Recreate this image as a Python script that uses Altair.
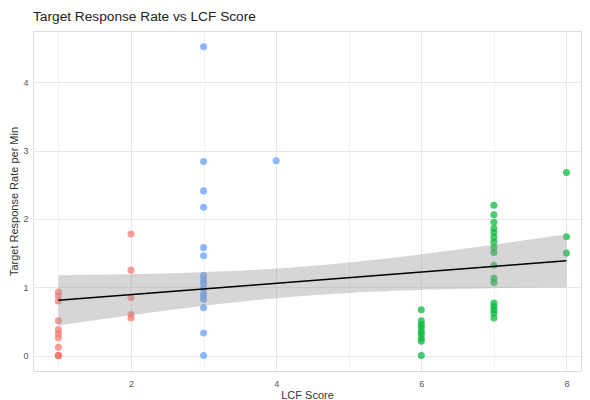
import altair as alt
import numpy as np
import pandas as pd

# ---- data ----
lcf_1 = [0.93, 0.87, 0.80, 0.51, 0.38, 0.32, 0.26, 0.12, 0.0, 0.0, 0.0]
lcf_2 = [1.78, 1.25, 0.85, 0.60, 0.55]
lcf_3 = [4.52, 2.84, 2.41, 2.17, 1.58, 1.46, 1.17, 1.11, 1.06, 0.99, 0.92,
         0.87, 0.82, 0.70, 0.33, 0.0]
lcf_4 = [2.85]
lcf_6 = [0.67, 0.51, 0.45, 0.41, 0.35, 0.31, 0.25, 0.21, 0.0]
lcf_7 = [2.20, 2.06, 1.95, 1.86, 1.80, 1.73, 1.66, 1.58, 1.51, 1.32, 1.13,
         1.07, 0.77, 0.72, 0.67, 0.62, 0.55]
lcf_8 = [2.68, 1.74, 1.50]

groups = ["Low", "Moderate", "High"]
group_colors = ["#F8766D", "#619CFF", "#00BA38"]

series = [(1, lcf_1, "Low"), (2, lcf_2, "Low"), (3, lcf_3, "Moderate"),
          (4, lcf_4, "Moderate"), (6, lcf_6, "High"), (7, lcf_7, "High"),
          (8, lcf_8, "High")]

rows = []
for score, vals, grp in series:
    for v in vals:
        rows.append({"score": score, "rate": v, "group": grp})
df = pd.DataFrame(rows)

# ---- linear fit with 95% confidence band (as geom_smooth(method="lm")) ----
x = df["score"].to_numpy(float)
y = df["rate"].to_numpy(float)
n = len(x)
b1, b0 = np.polyfit(x, y, 1)
resid = y - (b0 + b1 * x)
s = np.sqrt(np.sum(resid ** 2) / (n - 2))
xbar = x.mean()
sxx = np.sum((x - xbar) ** 2)
dfree = n - 2
z = 1.959964
tcrit = z + (z ** 3 + z) / (4 * dfree)
xs = np.linspace(1, 8, 80)
fit = b0 + b1 * xs
se = s * np.sqrt(1.0 / n + (xs - xbar) ** 2 / sxx)
band = pd.DataFrame({"score": xs, "fit": fit, "lo": fit - tcrit * se,
                     "hi": fit + tcrit * se})

x_scale = alt.Scale(domain=[0.65, 8.2], nice=False, zero=False)
y_scale = alt.Scale(domain=[-0.226, 4.75], nice=False, zero=False)

FONT = "Liberation Sans"

x_axis = alt.Axis(
    title="LCF Score",
    values=[1, 2, 3, 4, 5, 6, 7, 8],
    format="d",
    labelExpr="datum.value % 2 == 0 ? datum.label : ''",
    grid=True,
    gridColor={"condition": {"test": "datum.value % 2 == 0", "value": "#e8e8e8"},
               "value": "#f2f2f2"},
    gridWidth=1,
    domain=False, ticks=False, tickSize=0,
    labelPadding=8, labelFontSize=9, labelColor="#555555", labelFont=FONT,
    titleFont=FONT, titleFontSize=11, titleFontWeight="normal",
    titleColor="#333333", titlePadding=1,
)
y_axis = alt.Axis(
    title="Target Response Rate per Min",
    values=[0, 0.5, 1, 1.5, 2, 2.5, 3, 3.5, 4, 4.5],
    labelExpr="datum.value % 1 == 0 ? format(datum.value, 'd') : ''",
    grid=True,
    gridColor={"condition": {"test": "datum.value % 1 == 0", "value": "#e8e8e8"},
               "value": "#f2f2f2"},
    gridWidth=1,
    domain=False, ticks=False, tickSize=0,
    labelPadding=5, labelFontSize=9, labelColor="#555555", labelFont=FONT,
    titleFont=FONT, titleFontSize=11, titleFontWeight="normal",
    titleColor="#333333", titlePadding=3,
)

points = alt.Chart(df).mark_circle(size=50, opacity=0.72).encode(
    x=alt.X("score:Q", scale=x_scale, axis=x_axis),
    y=alt.Y("rate:Q", scale=y_scale, axis=y_axis),
    color=alt.Color("group:N", scale=alt.Scale(domain=groups, range=group_colors),
                    legend=None),
)

ribbon = alt.Chart(band).mark_area(color="#999999", opacity=0.4).encode(
    x=alt.X("score:Q", scale=x_scale),
    y=alt.Y("lo:Q", scale=y_scale),
    y2="hi:Q",
)

line = alt.Chart(band).mark_line(color="#000000", strokeWidth=1.5).encode(
    x=alt.X("score:Q", scale=x_scale),
    y=alt.Y("fit:Q", scale=y_scale),
)

chart = alt.layer(points, ribbon, line).properties(
    width=548,
    height=340,
    title=alt.TitleParams("Target Response Rate vs LCF Score", anchor="start",
                          frame="group", font=FONT, fontSize=13.7,
                          fontWeight="normal", color="#222222", offset=7),
    autosize=alt.AutoSizeParams(type="none"),
    padding={"left": 25, "top": 23, "right": 1, "bottom": 28},
).configure_view(stroke=None).configure(background="white")

chart.save("out.html", embed_options={"renderer": "svg", "actions": False})
